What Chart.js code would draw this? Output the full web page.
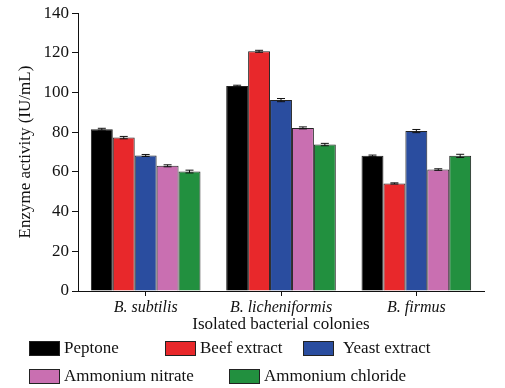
<!DOCTYPE html>
<html><head><meta charset="utf-8">
<script src="https://cdn.jsdelivr.net/npm/chart.js@4/dist/chart.umd.min.js"></script>
<style>
html,body{margin:0;padding:0;background:#fff;}
#wrap{position:relative;width:505px;height:388px;}
#c{position:absolute;left:0;top:0;}
.lg{position:absolute;font-family:"Liberation Serif",serif;font-size:17px;color:#111;display:flex;align-items:center;white-space:nowrap;}
.lg span.box{display:inline-block;width:29px;height:13px;border:1px solid #222;margin-right:4px;}
</style></head>
<body><div id="wrap"><canvas id="c" width="505" height="388"></canvas></div>
<script>
const categories = ["B. subtilis", "B. licheniformis", "B. firmus"];
const seriesNames = ["Peptone", "Beef extract", "Yeast extract", "Ammonium nitrate", "Ammonium chloride"];
const peptone = [81.5, 103.3, 68.1];
const beefExtract = [77.3, 120.8, 54.2];
const yeastExtract = [68.3, 96.2, 80.6];
const ammoniumNitrate = [63.1, 82.2, 61.2];
const ammoniumChloride = [60.2, 73.8, 68.1];
const errPeptone = [0.5, 0.4, 0.4];
const errBeef = [0.6, 0.5, 0.3];
const errYeast = [0.5, 0.8, 0.8];
const errNitrate = [0.5, 0.5, 0.4];
const errChloride = [0.7, 0.6, 0.8];
const yTicks = [0, 20, 40, 60, 80, 100, 120, 140];

const colors = ["#000000", "#e8282b", "#2a4d9f", "#c96fb1", "#22903f"];
const values = [peptone, beefExtract, yeastExtract, ammoniumNitrate, ammoniumChloride];
const errs = [errPeptone, errBeef, errYeast, errNitrate, errChloride];

const errorBars = {
  id: 'errorBars',
  afterDatasetsDraw(chart) {
    const ctx = chart.ctx, y = chart.scales.y;
    ctx.save();
    ctx.strokeStyle = '#111'; ctx.lineWidth = 1;
    chart.data.datasets.forEach((ds, i) => {
      const meta = chart.getDatasetMeta(i);
      meta.data.forEach((bar, j) => {
        const v = ds.data[j], e = ds.err[j];
        const yt = y.getPixelForValue(v + e), yb = y.getPixelForValue(v - e);
        const x = bar.x, hw = 4;
        ctx.beginPath();
        ctx.moveTo(x, yt); ctx.lineTo(x, yb);
        ctx.moveTo(x - hw, yt); ctx.lineTo(x + hw, yt);
        ctx.moveTo(x - hw, yb); ctx.lineTo(x + hw, yb);
        ctx.stroke();
      });
    });
    ctx.restore();
  }
};

new Chart(document.getElementById('c'), {
  type: 'bar',
  data: {
    labels: categories,
    datasets: seriesNames.map((n, i) => ({
      label: n, data: values[i], err: errs[i],
      backgroundColor: colors[i], borderColor: '#222', borderWidth: 1,
      barPercentage: 1.0, categoryPercentage: 0.81
    }))
  },
  options: {
    responsive: false, animation: false,
    layout: { padding: { left: 15, right: 21, top: 3, bottom: 53 } },
    plugins: { legend: { display: false }, tooltip: { enabled: false } },
    scales: {
      x: {
        grid: { display: true, drawOnChartArea: false, offset: false, color: '#111', tickLength: 5 },
        border: { color: '#111', width: 1 },
        ticks: { color: '#111', padding: 2, font: { family: 'Liberation Serif', size: 16, style: 'italic' } },
        title: { display: true, text: 'Isolated bacterial colonies', color: '#111', padding: { top: 4, bottom: 0 },
                 font: { family: 'Liberation Serif', size: 17 } },
        afterFit(s) { s.height = 44; }
      },
      y: {
        min: 0, max: 140,
        afterBuildTicks(s) { s.ticks = []; for (let v = 0; v <= 140; v += 10) s.ticks.push({ value: v }); },
        grid: { display: true, drawOnChartArea: false, color: '#111', tickLength: 6 },
        border: { color: '#111', width: 1 },
        ticks: { color: '#111', padding: 3, font: { family: 'Liberation Serif', size: 17 },
                 callback: (v) => yTicks.includes(v) ? String(v) : '' },
        title: { display: true, text: 'Enzyme activity (IU/mL)', color: '#111', padding: { top: 0, bottom: 4 },
                 font: { family: 'Liberation Serif', size: 17 } },
        afterFit(s) { s.width = 63; }
      }
    }
  },
  plugins: [errorBars]
});

const pos = [[29, 338], [165, 338], [303, 338], [29, 366], [229, 366]];
const wrap = document.getElementById('wrap');
seriesNames.forEach((n, i) => {
  const d = document.createElement('div');
  d.className = 'lg';
  d.style.left = pos[i][0] + 'px'; d.style.top = pos[i][1] + 'px';
  const b = document.createElement('span'); b.className = 'box'; b.style.background = colors[i];
  d.appendChild(b);
  const t = document.createElement('span'); t.textContent = n; if (i === 2) t.style.marginLeft = '5px';
  d.appendChild(t);
  wrap.appendChild(d);
});
</script></body></html>
